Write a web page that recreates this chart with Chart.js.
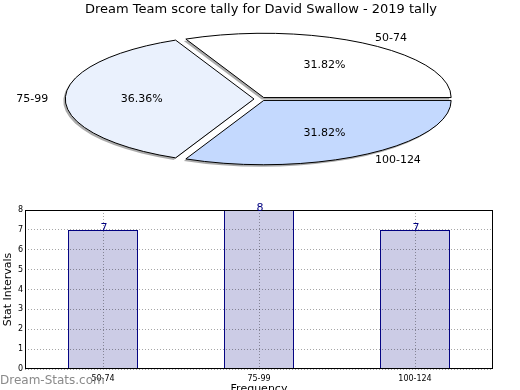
<!DOCTYPE html>
<html>
<head>
<meta charset="utf-8">
<script src="https://cdn.jsdelivr.net/npm/chart.js@4.4.0/dist/chart.umd.min.js"></script>
<style>
body { margin: 0; background: #fff; }
#wrap { position: relative; width: 520px; height: 390px; overflow: hidden; }
canvas { position: absolute; left: 0; top: 0; }
#mark { position: absolute; left: 0; top: 373px; font: 12px 'DejaVu Sans'; color: #8a8a8a; }
</style>
</head>
<body>
<div id="wrap">
  <canvas id="pie" width="520" height="390"></canvas>
  <canvas id="bars" width="520" height="390"></canvas>
  <div id="mark">Dream-Stats.com</div>
</div>
<script>
const categories = ['50-74', '75-99', '100-124'];
const counts = [7, 8, 7];
const yTicks = [0, 1, 2, 3, 4, 5, 6, 7, 8];

Chart.defaults.font.family = "'DejaVu Sans', sans-serif";
Chart.defaults.color = '#000';

// chart.js goes clockwise from east, the picture goes the other way round
const pieOrder = [2, 1, 0];
const pieLabels = pieOrder.map(i => categories[i]);
const pieValues = pieOrder.map(i => counts[i]);
const pieColours = ['#c4d9fe', '#eaf1fd', '#ffffff'];
const pieOffsets = [20, 28, 20];
const total = counts.reduce((a, b) => a + b, 0);

// squash the round pie into the flat ellipse
const CY = 99, K = 0.343;
function squash(ctx, arc) {
    ctx.translate(0, CY);
    ctx.scale(1, K);
    ctx.translate(0, -arc.y);
}
function arcCentre(arc) {
    const mid = (arc.startAngle + arc.endAngle) / 2;
    const off = (arc.options.offset || 0) / 4;
    return { mid, off, x: arc.x + Math.cos(mid) * off, y: arc.y + Math.sin(mid) * off };
}
function arcPath(ctx, arc) {
    const c = arcCentre(arc);
    const fix = 1 - Math.sin(Math.min(Math.PI, arc.circumference));
    ctx.moveTo(c.x, c.y);
    ctx.arc(c.x, c.y, arc.outerRadius + c.off * fix, arc.startAngle, arc.endAngle);
    ctx.closePath();
}

const pieDecor = {
    id: 'pieDecor',
    beforeDatasetsDraw(chart) {
        const ctx = chart.ctx;
        const arcs = chart.getDatasetMeta(0).data;
        ctx.save();
        ctx.translate(-2, 2);
        squash(ctx, arcs[0]);
        ctx.beginPath();
        arcs.forEach(a => arcPath(ctx, a));
        ctx.fillStyle = 'rgba(0,0,0,0.33)';
        ctx.fill();
        ctx.restore();
        ctx.save();
        squash(ctx, arcs[0]);
    },
    afterDatasetsDraw(chart) {
        const ctx = chart.ctx;
        ctx.restore();
        const arcs = chart.getDatasetMeta(0).data;
        arcs.forEach(a => {
            ctx.save();
            squash(ctx, a);
            ctx.beginPath();
            arcPath(ctx, a);
            ctx.restore();
            ctx.lineWidth = 1;
            ctx.strokeStyle = '#000';
            ctx.stroke();
        });
        ctx.save();
        ctx.font = "11px 'DejaVu Sans'";
        ctx.fillStyle = '#000';
        ctx.textBaseline = 'middle';
        arcs.forEach((a, i) => {
            const c = arcCentre(a);
            const r = a.outerRadius;
            const sy = v => CY + (v - a.y) * K;
            const cos = Math.cos(c.mid), sin = Math.sin(c.mid);
            ctx.textAlign = cos >= 0 ? 'left' : 'right';
            ctx.fillText(pieLabels[i], c.x + cos * 1.1 * r, sy(c.y + sin * 1.1 * r));
            ctx.textAlign = 'center';
            const pct = (pieValues[i] / total * 100).toFixed(2) + '%';
            ctx.fillText(pct, c.x + cos * 0.6 * r, sy(c.y + sin * 0.6 * r));
        });
        ctx.restore();
    }
};

new Chart(document.getElementById('pie'), {
    type: 'pie',
    data: {
        labels: pieLabels,
        datasets: [{
            data: pieValues,
            backgroundColor: pieColours,
            borderWidth: 0,
            offset: pieOffsets,
            clip: false
        }]
    },
    options: {
        responsive: false,
        animation: false,
        events: [],
        rotation: 90,
        radius: 187,
        layout: { padding: { left: 2 } },
        plugins: {
            legend: { display: false },
            tooltip: { enabled: false },
            title: {
                display: true,
                text: 'Dream Team score tally for David Swallow - 2019 tally',
                font: { size: 13, weight: 'normal' },
                color: '#000',
                padding: { top: 2, bottom: 0 }
            }
        }
    },
    plugins: [pieDecor]
});

const barDecor = {
    id: 'barDecor',
    afterDraw(chart) {
        const ctx = chart.ctx;
        const a = chart.chartArea;
        ctx.save();
        ctx.strokeStyle = '#000';
        ctx.lineWidth = 1;
        ctx.strokeRect(Math.round(a.left) + 0.5, Math.round(a.top) + 0.5,
            Math.round(a.right - a.left) - 1, Math.round(a.bottom - a.top) - 1);
        ctx.font = "11px 'DejaVu Sans'";
        ctx.fillStyle = '#000080';
        ctx.textAlign = 'center';
        ctx.textBaseline = 'alphabetic';
        chart.getDatasetMeta(0).data.forEach((bar, i) => {
            ctx.fillText(String(counts[i]), bar.x + 1, bar.y + 1);
        });
        ctx.restore();
    }
};

const gridColour = 'rgba(0,0,0,0.35)';
new Chart(document.getElementById('bars'), {
    type: 'bar',
    data: {
        labels: categories,
        datasets: [{
            data: counts,
            backgroundColor: '#ccccE6',
            borderColor: '#000080',
            borderWidth: 1,
            barPercentage: 0.449,
            categoryPercentage: 1
        }]
    },
    options: {
        responsive: false,
        animation: false,
        events: [],
        layout: { padding: { top: 210, right: 27, left: 0, bottom: 0 } },
        plugins: { legend: { display: false }, tooltip: { enabled: false } },
        scales: {
            x: {
                grid: { offset: false, color: gridColour, drawTicks: false, z: 1 },
                border: { display: false, dash: [1, 2] },
                ticks: { font: { size: 8 }, padding: 5, color: '#000' },
                title: {
                    display: true, text: 'Frequency', color: '#000',
                    font: { size: 11 }, padding: { top: 0, bottom: -6 }
                },
                afterFit(scale) { scale.height = 21; }
            },
            y: {
                min: 0,
                max: 8,
                grid: { color: gridColour, drawTicks: false, z: 1 },
                border: { display: false, dash: [1, 2] },
                ticks: { font: { size: 8 }, padding: 2, color: '#000' },
                afterBuildTicks(scale) { scale.ticks = yTicks.map(v => ({ value: v })); },
                title: {
                    display: true, text: 'Stat Intervals', color: '#000',
                    font: { size: 11 }, padding: { top: 2, bottom: 0 }
                },
                afterFit(scale) { scale.width = 25; }
            }
        }
    },
    plugins: [barDecor]
});
</script>
</body>
</html>
